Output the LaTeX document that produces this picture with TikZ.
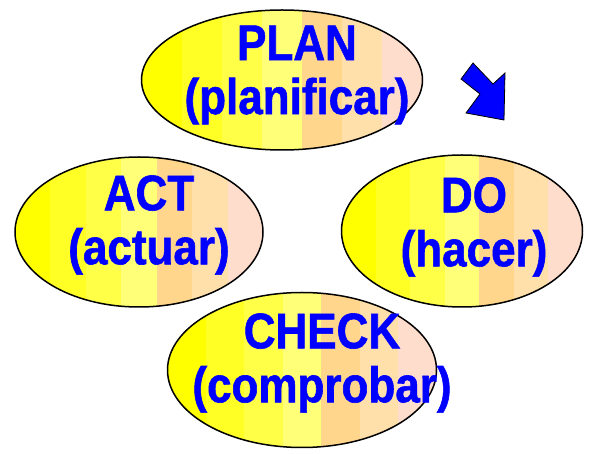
\documentclass[tikz,border=0pt]{standalone}
\usepackage{fontspec}
\newfontfamily\pdcafont[FakeStretch=0.88,FakeBold=1.2]{Liberation Sans}
\usetikzlibrary{calc,shapes.geometric}
\definecolor{stripeA}{RGB}{255,255,0}
\definecolor{stripeB}{RGB}{255,255,38}
\definecolor{stripeC}{RGB}{255,255,72}
\definecolor{stripeD}{RGB}{255,255,120}
\definecolor{stripeE}{RGB}{255,214,140}
\definecolor{stripeF}{RGB}{255,224,170}
\definecolor{stripeG}{RGB}{255,221,204}
\definecolor{pdcablue}{RGB}{0,0,255}

\begin{document}
\begin{tikzpicture}[x=1pt,y=-1pt,
	phase/.style={ellipse, draw=black, line width=1.5pt, inner sep=0pt,
		path picture={
			\foreach \col [count=\i from 0] in {stripeA,stripeB,stripeC,stripeD,stripeE,stripeF,stripeG}
				\fill[\col] ($(path picture bounding box.south west)!{\i/7}!(path picture bounding box.south east)$) rectangle ($(path picture bounding box.north west)!{(\i+1.02)/7}!(path picture bounding box.north east)$);
		}},
	phasetext/.style={text=pdcablue, align=center, font=\pdcafont\bfseries\fontsize{50}{54}\selectfont}]
			%%%%% START %%%%%
			
			\useasboundingbox (0, 0) rectangle (598, 454);
			
			\node[phase, minimum width=281pt, minimum height=140pt] (plan) at (282, 80) {};
			\node[phase, minimum width=248pt, minimum height=150pt] (act) at (139, 232) {};
			\node[phase, minimum width=241pt, minimum height=152pt] (do) at (462, 231) {};
			\node[phase, minimum width=269pt, minimum height=155pt] (check) at (302, 370) {};
			
			\node[phasetext] (plantext) at ($(plan)+(15, -5)$) {PLAN\\(planificar)};
			\node[phasetext] (acttext) at ($(act)+(10, -7)$) {ACT\\(actuar)};
			\node[phasetext] (dotext) at ($(do)+(12, -4)$) {DO\\(hacer)};
			\node[phasetext] (checktext) at ($(check)+(20, -7)$) {CHECK\\(comprobar)};
			
			\filldraw[fill=pdcablue, draw=black, line width=0.8pt] (473, 63) -- (461, 79) -- (480, 94) -- (466, 113) -- (504, 120) -- (505, 73) -- (493, 84) -- cycle;
			
			%%%%% END %%%%%
		\end{tikzpicture}
\end{document}
